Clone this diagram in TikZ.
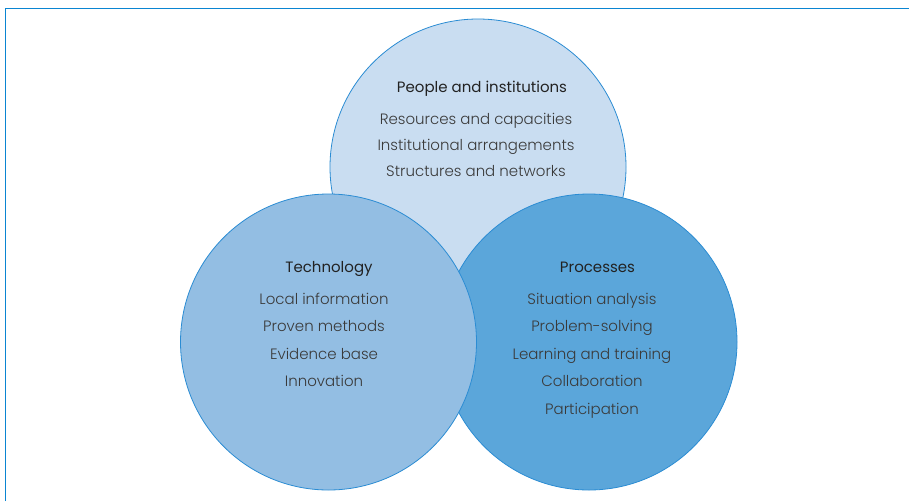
\documentclass[tikz,border=0pt]{standalone}
\usepackage{fontspec}
\setmainfont{Poppins}
\newfontfamily\lightfont{Poppins Light}
\usetikzlibrary{positioning}
\definecolor{frameblue}{HTML}{0A85D2}
\definecolor{ringblue}{HTML}{2B8CD3}
\definecolor{peoplefill}{HTML}{C9DDF1}
\definecolor{techfill}{HTML}{93BEE3}
\definecolor{processfill}{HTML}{5BA6DA}
\definecolor{headgray}{HTML}{222222}
\definecolor{itemgray}{HTML}{3A3A3A}
\tikzset{
  ring/.style={circle, draw=ringblue, line width=0.8pt, minimum size=296pt, inner sep=0pt},
  head/.style={anchor=base, inner sep=0pt, text=headgray, font=\fontsize{15}{18}\selectfont},
  items/.style={anchor=base, inner sep=0pt, align=center, text=itemgray, font=\lightfont\fontsize{15}{27.6}\selectfont},
}

\begin{document}
\begin{tikzpicture}[x=1pt, y=-1pt]
    \useasboundingbox (0,0) rectangle (909,501);
    \draw [frameblue, line width=1pt] (5.5,501) -- (5.5,8.5) -- (909,8.5);

    \node [ring, fill=peoplefill] (people) at (478, 167) {};
    \node [ring, fill=processfill] (processes) at (589, 342) {};
    \node [ring, fill=techfill] (technology) at (328.5, 342) {};

    \node [head] (peoplehead) at (482, 92) {People and institutions};
    \node [items, font=\lightfont\fontsize{15}{26}\selectfont] (peopleitems) at (476, 176)
        {Resources and capacities\\Institutional arrangements\\Structures and networks};

    \node [head] (techhead) at (329, 272) {Technology};
    \node [items] (techitems) at (324, 386.8)
        {Local information\\Proven methods\\Evidence base\\Innovation};

    \node [head] (processhead) at (597.5, 272) {Processes};
    \node [items] (processitems) at (592, 414.4)
        {Situation analysis\\Problem-solving\\Learning and training\\Collaboration\\Participation};
\end{tikzpicture}
\end{document}
